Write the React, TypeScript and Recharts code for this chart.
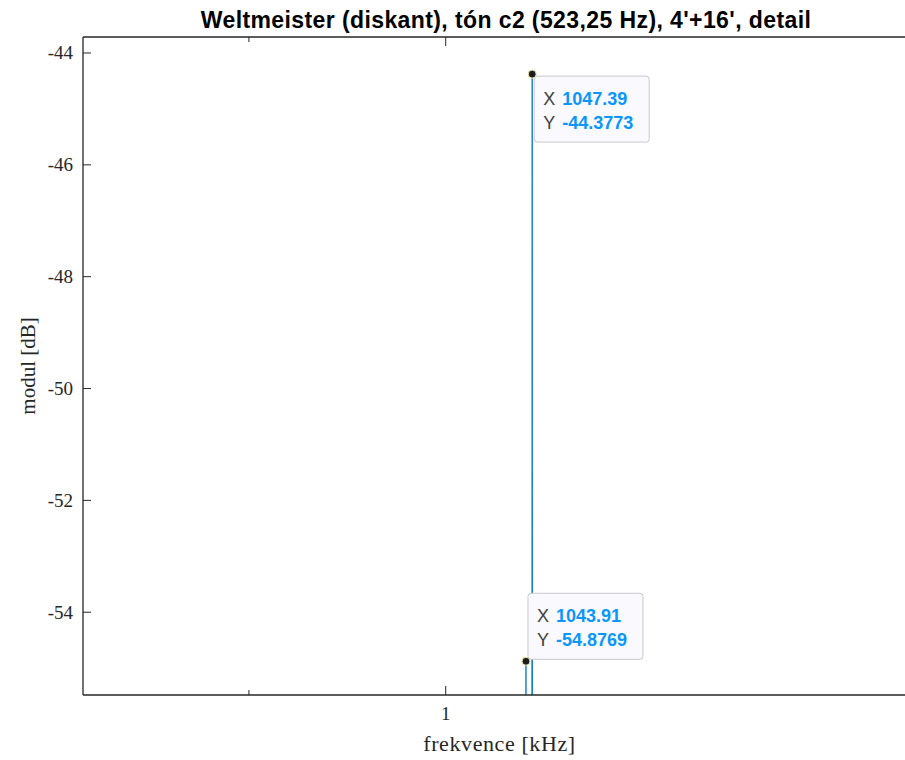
import React from 'react';
import { LineChart, Line, XAxis, YAxis, ReferenceDot } from 'recharts';

// ---- data (frequency in Hz, magnitude in dB) ----
const frequencyHz = [950, 1043.7, 1043.91, 1044.1, 1047.2, 1047.35, 1047.39, 1047.45, 1100];
const magnitudeDb = [-62, -62, -54.8769, -62, -62, -52.5, -44.3773, -62, -62];

const yTicks = [-54, -52, -50, -48, -46, -44];
const xTicks = [900, 1000];
const xTickLabels = ['', '1'];
const xMajorTicks = [1000];

const tipX = [1047.39, 1043.91];
const tipY = [-44.3773, -54.8769];
const tipXText = ['1047.39', '1043.91'];
const tipYText = ['-44.3773', '-54.8769'];
const tipPlacement = ['below', 'above'];

const titleText = "Weltmeister (diskant), tón c2 (523,25 Hz), 4'+16', detail";
const xLabelText = 'frekvence [kHz]';
const yLabelText = 'modul [dB]';

const data = frequencyHz.map((f, i) => ({ f, db: magnitudeDb[i] }));

const SERIF = '"Liberation Serif", "DejaVu Serif", serif';
const SANS = '"Liberation Sans", Arial, sans-serif';
const AXIS = '#262626';
const LINE = '#0072BD';
const TIPBLUE = '#0A96FA';

function YTick(props: any) {
  const { x, y, payload } = props;
  return (
    <g>
      <text x={x} y={y} textAnchor="end" dominantBaseline="central" fontFamily={SERIF} fontSize={19} fill={AXIS}>
        {String(payload.value)}
      </text>
      <line x1={x + 10} x2={x + 18} y1={y} y2={y} stroke={AXIS} strokeWidth={1} />
    </g>
  );
}

function XTickBottom(props: any) {
  const { x, y, payload } = props;
  const idx = xTicks.indexOf(payload.value);
  const major = xMajorTicks.includes(payload.value);
  const axisY = y - 12;
  return (
    <g>
      <line x1={x} x2={x} y1={axisY} y2={axisY - (major ? 9 : 5)} stroke={AXIS} strokeWidth={1} />
      <text x={x} y={y} dy="0.71em" textAnchor="middle" fontFamily={SERIF} fontSize={19} fill={AXIS}>
        {idx >= 0 ? xTickLabels[idx] : ''}
      </text>
    </g>
  );
}

function XTickTop(props: any) {
  const { x, y, payload } = props;
  const major = xMajorTicks.includes(payload.value);
  return <line x1={x} x2={x} y1={y} y2={y + (major ? 9 : 5)} stroke={AXIS} strokeWidth={1} />;
}

function makeTip(i: number) {
  return (p: any) => {
    const { cx, cy } = p;
    const bx = cx + 2;
    const by = tipPlacement[i] === 'below' ? cy + 2 : cy - 68;
    return (
      <g>
        <rect x={bx} y={by} width={115} height={66} rx={3} ry={3} fill="#FAFAFE" stroke="#C8C8CC" strokeWidth={1} />
        <text x={bx + 9} y={by + 29} fontFamily={SANS} fontSize={18} fill="#404040">X</text>
        <text x={bx + 28} y={by + 29} fontFamily={SANS} fontSize={18} fontWeight="bold" fill={TIPBLUE}>{tipXText[i]}</text>
        <text x={bx + 9} y={by + 53} fontFamily={SANS} fontSize={18} fill="#404040">Y</text>
        <text x={bx + 28} y={by + 53} fontFamily={SANS} fontSize={18} fontWeight="bold" fill={TIPBLUE}>{tipYText[i]}</text>
        <circle cx={cx} cy={cy} r={4} fill="#1E1E1E" stroke="#F2EEB0" strokeWidth={1} />
      </g>
    );
  };
}

export default function App() {
  return (
    <div style={{ position: 'absolute', left: 0, top: 0, width: 905, height: 760, overflow: 'hidden', background: '#fff' }}>
      <div
        style={{
          position: 'absolute',
          left: 506 - 400,
          width: 800,
          top: 7,
          textAlign: 'center',
          fontFamily: SANS,
          fontWeight: 'bold',
          fontSize: 23,
          letterSpacing: 0.4,
          color: '#000',
          lineHeight: '26px',
          whiteSpace: 'nowrap',
        }}
      >
        {titleText}
      </div>
      <LineChart width={940} height={760} data={data} margin={{ top: 36, right: 10, bottom: 0, left: 0 }}>
        <XAxis
          dataKey="f"
          type="number"
          scale="log"
          domain={[823.5, 1296]}
          allowDataOverflow
          ticks={xTicks}
          interval={0}
          height={65}
          tickSize={0}
          tickMargin={12}
          tick={<XTickBottom />}
          axisLine={{ stroke: AXIS, strokeWidth: 1.3 }}
          tickLine={false}
          label={{ value: xLabelText, position: 'insideBottom', offset: 9, dx: -7, style: { fontFamily: SERIF, fontSize: 22, letterSpacing: 0.6, fill: AXIS } }}
        />
        <XAxis
          xAxisId="top"
          orientation="top"
          dataKey="f"
          type="number"
          scale="log"
          domain={[823.5, 1296]}
          allowDataOverflow
          ticks={xTicks}
          interval={0}
          height={1}
          tickSize={0}
          tickMargin={0}
          tick={<XTickTop />}
          axisLine={{ stroke: AXIS, strokeWidth: 1.3 }}
          tickLine={false}
        />
        <YAxis
          type="number"
          domain={[-55.48, -43.714]}
          allowDataOverflow
          ticks={yTicks}
          interval={0}
          width={83}
          tickSize={0}
          tickMargin={10}
          tick={<YTick />}
          axisLine={{ stroke: AXIS, strokeWidth: 1.3 }}
          tickLine={false}
          label={{ value: yLabelText, angle: -90, position: 'center', dx: -14, style: { fontFamily: SERIF, fontSize: 21, fill: AXIS } }}
        />
        <Line type="linear" dataKey="db" stroke={LINE} strokeWidth={1.3} dot={false} isAnimationActive={false} />
        {tipX.map((tx, i) => (
          <ReferenceDot key={i} x={tx} y={tipY[i]} r={4} shape={makeTip(i)} />
        ))}
      </LineChart>
    </div>
  );
}
